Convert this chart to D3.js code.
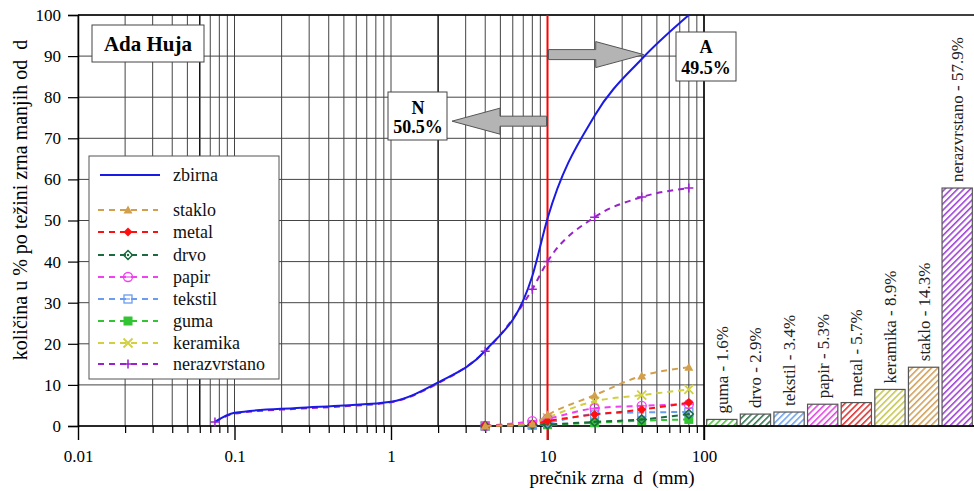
<!DOCTYPE html>
<html><head><meta charset="utf-8">
<script src="https://cdn.jsdelivr.net/npm/d3@7"></script>
<style>
html,body{margin:0;padding:0;background:#fff;}
svg, svg text{font-family:"Liberation Serif","Times New Roman",Times,serif !important;}
</style></head>
<body><svg id="c" width="974" height="491"></svg>
<script>
// ---- data ----
const yTicks = [0,10,20,30,40,50,60,70,80,90,100];
const xTickLabels = [0.01, 0.1, 1, 10, 100];
const zbirnaSizes = [0.075, 0.1, 0.25, 0.5, 1, 2, 4, 8, 10, 20, 40, 80];
const zbirnaValues = [1.0, 3.2, 4.4, 5.0, 5.9, 10.6, 18.3, 36.5, 50.5, 75.5, 89.3, 100];
const nerazSizes = [0.075, 0.1, 0.25, 0.5, 1, 2, 4, 8, 10, 20, 40, 80];
const nerazValues = [1.0, 3.0, 4.2, 4.8, 5.8, 10.4, 18.2, 33.3, 40.0, 50.8, 55.7, 57.9];
const nerazMarkerSizes = [0.075, 4, 8, 10, 20, 40, 80];
const fracSizes = [4, 8, 10, 20, 40, 80];
const staklo   = [0, 0.5, 2.7, 7.5, 12.2, 14.3];
const metal    = [0, 0.5, 1.2, 2.8, 4.0, 5.7];
const drvo     = [0, 0.3, 0.4, 1.0, 1.6, 2.9];
const papir    = [0, 1.2, 1.8, 4.3, 4.9, 5.3];
const tekstil  = [0, 0.3, 0.8, 2.9, 3.3, 3.4];
const guma     = [0, 0.2, 0.3, 0.8, 1.3, 1.6];
const keramika = [0, 0.4, 2.0, 6.0, 7.5, 8.9];
const barCategories = ["guma","drvo","tekstil","papir","metal","keramika","staklo","nerazvrstano"];
const barValues = [1.6, 2.9, 3.4, 5.3, 5.7, 8.9, 14.3, 57.9];
const splitSize = 10, passN = 50.5, passA = 49.5;

// ---- styles ----
const FONT = "Liberation Serif, Times New Roman, serif";
const colors = {
  zbirna:"#1a1ae6", staklo:"#d2a04c", metal:"#ff1010", drvo:"#1b6b3e", papir:"#f040f0",
  tekstil:"#6a9cf0", guma:"#33c433", keramika:"#d0d040", nerazvrstano:"#9a22cc"
};
const barColors = {
  guma:"#4cbf3a", drvo:"#2a7048", tekstil:"#6aa0f0", papir:"#e23ce2", metal:"#dc2828",
  keramika:"#c4c448", staklo:"#cf9c52", nerazvrstano:"#9a38d4"
};

const svg = d3.select("#c").attr("font-family", FONT);
const x = d3.scaleLog().domain([0.01,100]).range([78,704]);
const y = d3.scaleLinear().domain([0,100]).range([426,15]);
const xb = d3.scaleBand().domain(barCategories).range([705,974]).paddingInner(0.1).paddingOuter(0.05);

// patterns
const defs = svg.append("defs");
barCategories.forEach(c=>{
  const p = defs.append("pattern").attr("id","h_"+c).attr("patternUnits","userSpaceOnUse")
    .attr("width",4.5).attr("height",4.5).attr("patternTransform","rotate(45)");
  p.append("rect").attr("width",4.5).attr("height",4.5).attr("fill","#fff");
  p.append("line").attr("x1",0.8).attr("y1",0).attr("x2",0.8).attr("y2",4.5)
    .attr("stroke",barColors[c]).attr("stroke-width",1.5);
});

// grid
const g = svg.append("g");
const minor = [];
for (let e=-2;e<2;e++) for (let k=1;k<=9;k++) minor.push(k*Math.pow(10,e));
minor.push(100);
const isBold = d => Math.abs(d-0.06)<1e-9 || Math.abs(d-2)<1e-9;
g.selectAll("line.v").data(minor).join("line")
  .attr("x1",d=>x(d)).attr("x2",d=>x(d)).attr("y1",y(100)).attr("y2",y(0))
  .attr("stroke",d=>isBold(d)?"#000":"#444")
  .attr("stroke-width",d=>isBold(d)?1.4:1);
g.selectAll("line.h").data(yTicks).join("line")
  .attr("x1",x(0.01)).attr("x2",x(100)).attr("y1",d=>y(d)).attr("y2",d=>y(d))
  .attr("stroke","#444").attr("stroke-width",1);

// frame top across to bar area
svg.append("line").attr("x1",x(0.01)).attr("x2",974).attr("y1",y(100)).attr("y2",y(100)).attr("stroke","#000").attr("stroke-width",1.5);

// y axis
const yAxis = d3.axisLeft(y).tickValues(yTicks).tickSize(10).tickPadding(7);
const ya = svg.append("g").attr("transform",`translate(${x(0.01)},0)`).call(yAxis).attr("font-family",FONT);
ya.select(".domain").attr("stroke","#000").attr("stroke-width",1.5);
ya.selectAll(".tick line").attr("stroke","#000").attr("stroke-width",1.2);
ya.selectAll(".tick text").attr("font-size",17).attr("fill","#000");

// x axis
const xAxisMinor = d3.axisBottom(x).tickValues(minor.filter(d=>!xTickLabels.includes(d))).tickSize(7).tickFormat("");
const xm = svg.append("g").attr("transform",`translate(0,${y(0)})`).call(xAxisMinor);
xm.select(".domain").remove();
xm.selectAll(".tick line").attr("stroke","#000").attr("stroke-width",1.2);
const xAxis = d3.axisBottom(x).tickValues(xTickLabels).tickSize(14).tickPadding(10).tickFormat(d=>String(d));
const xa = svg.append("g").attr("transform",`translate(0,${y(0)})`).call(xAxis).attr("font-family",FONT);
xa.select(".domain").remove();
xa.selectAll(".tick line").attr("stroke","#000").attr("stroke-width",1.4);
xa.selectAll(".tick text").attr("font-size",17).attr("fill","#000");
svg.append("line").attr("x1",x(0.01)).attr("x2",974).attr("y1",y(0)).attr("y2",y(0)).attr("stroke","#000").attr("stroke-width",1.5);

// axis titles
svg.append("text").attr("x",612).attr("y",484).attr("text-anchor","middle").style("white-space","pre")
  .attr("font-size",19).text("prečnik zrna  d  (mm)");
svg.append("text").attr("transform",`translate(27,${y(100)+185}) rotate(-90)`).attr("text-anchor","middle").style("white-space","pre")
  .attr("font-size",20).text("količina u % po težini zrna manjih od  d");

// red split line
svg.append("line").attr("x1",x(splitSize)).attr("x2",x(splitSize)).attr("y1",y(100)).attr("y2",y(0)+14)
  .attr("stroke","#ff0000").attr("stroke-width",2);

// arrows
function arrow(x0, x1, yc){
  const dir = Math.sign(x1-x0), hl = 48, bw = 5, hw = 13;
  const xb0 = x1 - dir*hl;
  const pts = [[x0,yc-bw],[xb0,yc-bw],[xb0,yc-hw],[x1,yc],[xb0,yc+hw],[xb0,yc+bw],[x0,yc+bw]];
  svg.append("path").attr("d",d3.line()(pts)+"Z").attr("fill","#b4b4b4").attr("stroke","#555").attr("stroke-width",1);
}
arrow(x(splitSize)+1, x(40)+2, y(90)-1.5);
arrow(x(splitSize)-1, 452, y(74.9)+3);

// lines
const lineGen = d3.line().x(d=>x(d[0])).y(d=>y(d[1])).curve(d3.curveMonotoneX);
const fractions = [
  ["staklo", staklo, "tri"], ["metal", metal, "dia"], ["drvo", drvo, "diaO"], ["papir", papir, "circ"],
  ["tekstil", tekstil, "sq"], ["guma", guma, "sqF"], ["keramika", keramika, "x"]
];
function marker(sel, type, color){
  const s = 4.5;
  if(type==="tri") sel.append("path").attr("d",`M0,${-s}L${s},${s*0.8}L${-s},${s*0.8}Z`).attr("fill",color);
  else if(type==="dia") sel.append("path").attr("d",`M0,${-s}L${s},0L0,${s}L${-s},0Z`).attr("fill",color);
  else if(type==="diaO"){ sel.append("path").attr("d",`M0,${-s}L${s},0L0,${s}L${-s},0Z`).attr("fill","none").attr("stroke",color).attr("stroke-width",1.5);
    sel.append("circle").attr("r",1.2).attr("fill",color);}
  else if(type==="circ"){ sel.append("circle").attr("r",s).attr("fill","none").attr("stroke",color).attr("stroke-width",1.3);
    sel.append("line").attr("x1",-s).attr("x2",s).attr("stroke",color).attr("stroke-width",1.1);}
  else if(type==="sq"){ sel.append("rect").attr("x",-s+0.5).attr("y",-s+0.5).attr("width",2*s-1).attr("height",2*s-1).attr("fill","none").attr("stroke",color).attr("stroke-width",1.3);
    sel.append("line").attr("x1",-2).attr("x2",2).attr("stroke",color).attr("stroke-width",1.1);}
  else if(type==="sqF") sel.append("rect").attr("x",-s).attr("y",-s).attr("width",2*s).attr("height",2*s).attr("fill",color);
  else if(type==="x") sel.append("path").attr("d",`M${-s},${-s}L${s},${s}M${-s},${s}L${s},${-s}`).attr("stroke",color).attr("stroke-width",1.8);
  else if(type==="plus") sel.append("path").attr("d",`M${-s},0L${s},0M0,${-s}L0,${s}`).attr("stroke",color).attr("stroke-width",1.5);
}
const fracG = svg.append("g");
fractions.slice().reverse().forEach(([name, vals, mk])=>{
  const pts = fracSizes.map((s,i)=>[s, vals[i]]);
  fracG.append("path").attr("d",lineGen(pts)).attr("fill","none").attr("stroke",colors[name])
    .attr("stroke-width",2).attr("stroke-dasharray","6,5");
  pts.forEach(p=>{
    const m = fracG.append("g").attr("transform",`translate(${x(p[0])},${y(p[1])})`);
    marker(m, mk, colors[name]);
  });
});
// nerazvrstano
const nerPts = nerazSizes.map((s,i)=>[s, nerazValues[i]]);
svg.append("path").attr("d",lineGen(nerPts)).attr("fill","none").attr("stroke",colors.nerazvrstano)
  .attr("stroke-width",2).attr("stroke-dasharray","6,5");
// zbirna
const zPts = zbirnaSizes.map((s,i)=>[s, zbirnaValues[i]]);
svg.append("path").attr("d",lineGen(zPts)).attr("fill","none").attr("stroke",colors.zbirna).attr("stroke-width",2);
nerPts.filter(p=>nerazMarkerSizes.includes(p[0])).forEach(p=>{
  const m = svg.append("g").attr("transform",`translate(${x(p[0])},${y(p[1])})`);
  marker(m, "plus", colors.nerazvrstano);
});

// bars
const by = d3.scaleLinear().domain([0,100]).range([426,15]);
const bars = svg.append("g");
barCategories.forEach((c,i)=>{
  const bx = xb(c), bw = xb.bandwidth(), v = barValues[i];
  bars.append("rect").attr("x",bx).attr("y",by(v)).attr("width",bw).attr("height",by(0)-by(v))
    .attr("fill",`url(#h_${c})`).attr("stroke","#555").attr("stroke-width",1.2);
  bars.append("text").attr("transform",`translate(${bx+bw/2},${by(v)-6}) rotate(-90)`)
    .attr("dy","0.35em").attr("font-size",17).attr("fill","#222").text(`${c} - ${v}%`);
});
svg.append("line").attr("x1",x(100)).attr("x2",974).attr("y1",y(0)).attr("y2",y(0)).attr("stroke","#000").attr("stroke-width",1.5);
svg.append("line").attr("x1",x(100)).attr("x2",x(100)).attr("y1",y(100)).attr("y2",y(0)+14).attr("stroke","#000").attr("stroke-width",1.5);

// legend
const lg = svg.append("g");
lg.append("rect").attr("x",89).attr("y",156).attr("width",190).attr("height",223).attr("fill","#fff").attr("stroke","#555").attr("stroke-width",1);
const legendItems = [["zbirna",null,175],["staklo","tri",210],["metal","dia",232],["drvo","diaO",255],
  ["papir","circ",277],["tekstil","sq",299],["guma","sqF",321],["keramika","x",343],["nerazvrstano","plus",364]];
legendItems.forEach(([name, mk, yy])=>{
  if(!mk){
    lg.append("line").attr("x1",100).attr("x2",160).attr("y1",yy).attr("y2",yy).attr("stroke",colors.zbirna).attr("stroke-width",2);
  } else {
    lg.append("line").attr("x1",98).attr("x2",158).attr("y1",yy).attr("y2",yy).attr("stroke",colors[name]).attr("stroke-width",2).attr("stroke-dasharray","6,5");
    marker(lg.append("g").attr("transform",`translate(128,${yy})`), mk, colors[name]);
  }
  lg.append("text").attr("x",173).attr("y",yy).attr("dy","0.35em").attr("font-size",18).attr("fill","#111").text(name);
});

// Ada Huja box
svg.append("rect").attr("x",92).attr("y",25).attr("width",112).attr("height",37).attr("fill","#fff").attr("stroke","#444");
svg.append("text").attr("x",148).attr("y",44).attr("dy","0.35em").attr("text-anchor","middle").attr("font-weight","bold").attr("font-size",21).text("Ada Huja");

// N box
svg.append("rect").attr("x",388).attr("y",92).attr("width",59).attr("height",48).attr("fill","#fff").attr("stroke","#444");
svg.append("text").attr("x",418).attr("y",108).attr("dy","0.35em").attr("text-anchor","middle").attr("font-weight","bold").attr("font-size",18).text("N");
svg.append("text").attr("x",418).attr("y",127).attr("dy","0.35em").attr("text-anchor","middle").attr("font-weight","bold").attr("font-size",18).text(passN.toFixed(1)+"%");
// A box
svg.append("rect").attr("x",676).attr("y",32).attr("width",60).attr("height",49).attr("fill","#fff").attr("stroke","#444");
svg.append("text").attr("x",706).attr("y",47).attr("dy","0.35em").attr("text-anchor","middle").attr("font-weight","bold").attr("font-size",18).text("A");
svg.append("text").attr("x",706).attr("y",68).attr("dy","0.35em").attr("text-anchor","middle").attr("font-weight","bold").attr("font-size",18).text(passA.toFixed(1)+"%");
</script></body></html>
